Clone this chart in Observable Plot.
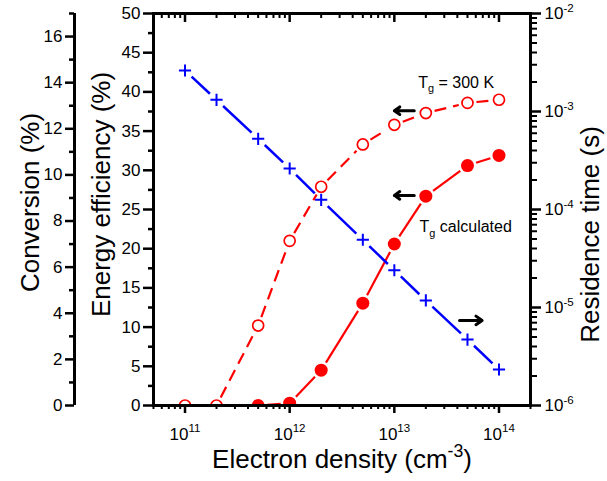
<!DOCTYPE html>
<html><head><meta charset="utf-8">
<script src="https://cdn.jsdelivr.net/npm/d3@7"></script>
<script src="https://cdn.jsdelivr.net/npm/@observablehq/plot@0.6"></script>
<style>
body{margin:0;background:#fff;}
#wrap{position:relative;width:607px;height:481px;}
#wrap svg{position:absolute;left:0;top:0;}
</style></head><body><div id="wrap"></div>
<script>
// ---- data ----
const density = [1e11, 2e11, 5e11, 1e12, 2e12, 5e12, 1e13, 2e13, 5e13, 1e14];
const effT300 = [0, 0, 10.2, 21.0, 27.9, 33.3, 35.8, 37.3, 38.6, 39.0];
const densityCalc = [5e11, 1e12, 2e12, 5e12, 1e13, 2e13, 5e13, 1e14];
const effCalc = [0, 0.3, 4.5, 13.05, 20.6, 26.7, 30.6, 31.9];
const residence = [2.62e-3, 1.315e-3, 5.26e-4, 2.62e-4, 1.256e-4, 4.91e-5, 2.40e-5, 1.18e-5, 4.71e-6, 2.33e-6];
const xTicks = [1e11, 1e12, 1e13, 1e14];
const effTicks = [0, 5, 10, 15, 20, 25, 30, 35, 40, 45, 50];
const effMinor = [2.5, 7.5, 12.5, 17.5, 22.5, 27.5, 32.5, 37.5, 42.5, 47.5];
const convTicks = [0, 2, 4, 6, 8, 10, 12, 14, 16];
const convMinor = [1, 3, 5, 7, 9, 11, 13, 15, 17];
const resTicks = [1e-6, 1e-5, 1e-4, 1e-3, 1e-2];
const notes = [
  {x: 1.69e13, y: 41.2, text: "T_{g} = 300 K"},
  {x: 1.74e13, y: 22.8, text: "T_{g} calculated"}
];
const arrows = [
  {x1: 1.55e13, y1: 37.6, x2: 1.0e13, y2: 37.6},
  {x1: 1.55e13, y1: 26.8, x2: 1.0e13, y2: 26.8},
  {x1: 4.2e13, y1: 10.85, x2: 6.9e13, y2: 10.85}
];

// ---- layout ----
const W = 607, H = 481, ML = 153, MR = 77, MT = 13, MB = 76;
const xDomain = [5e10, 2e14];
const FONT = "Liberation Sans, Arial, sans-serif";
const RED = "#ff0000", BLUE = "#0000ff";
const TITLE = 26;

// residence time (log) mapped into the energy-efficiency coordinate
const yRes = d3.scaleLog().domain([1e-6, 1e-2]).range([0, 50]);

const sx = Plot.scale({x: {type: "log", domain: xDomain, range: [ML, W - MR]}});
const sy = Plot.scale({y: {type: "linear", domain: [0, 50], range: [H - MB, MT]}});

function gapSegments(xs, ys, gap) {
  const segs = [];
  for (let i = 0; i < xs.length - 1; i++) {
    const ax = sx.apply(xs[i]), ay = sy.apply(ys[i]);
    const bx = sx.apply(xs[i + 1]), by = sy.apply(ys[i + 1]);
    const L = Math.hypot(bx - ax, by - ay);
    if (L <= 2 * gap + 1) continue;
    const ux = (bx - ax) / L, uy = (by - ay) / L;
    segs.push({x1: sx.invert(ax + ux * gap), y1: sy.invert(ay + uy * gap),
               x2: sx.invert(bx - ux * gap), y2: sy.invert(by - uy * gap)});
  }
  return segs;
}

const openPts = density.map((d, i) => ({x: d, y: effT300[i]}));
const calcPts = densityCalc.map((d, i) => ({x: d, y: effCalc[i]}));
const resPts = density.map((d, i) => ({x: d, y: yRes(residence[i])}));
const GAP = 9;
const openSegs = gapSegments(density, effT300, GAP);
const calcSegs = gapSegments(densityCalc, effCalc, GAP);
const resSegs = gapSegments(density, residence.map(yRes), GAP);

const xMinor = [];
for (let e = 10; e <= 14; e++) for (let m = 2; m <= 9; m++) {
  const v = m * Math.pow(10, e);
  if (v >= xDomain[0] && v <= xDomain[1]) xMinor.push(v);
}
const resMinor = [];
for (let e = -6; e <= -3; e++) for (let m = 2; m <= 9; m++) resMinor.push(yRes(m * Math.pow(10, e)));

const supFmt = (e) => "10^{" + e + "}";

const main = Plot.plot({
  width: W, height: H, marginLeft: ML, marginRight: MR, marginTop: MT, marginBottom: MB,
  style: {fontFamily: FONT, fontSize: "17px", background: "transparent", overflow: "visible", color: "black"},
  x: {type: "log", domain: xDomain, label: null},
  y: {type: "linear", domain: [0, 50], label: null},
  marks: [
    // T = 300 K (open circles, dashed)
    Plot.link(openSegs, {x1: "x1", y1: "y1", x2: "x2", y2: "y2", stroke: RED, strokeWidth: 2.2, strokeDasharray: "12,7", clip: true}),
    Plot.dot(openPts, {x: "x", y: "y", r: 5.5, stroke: RED, strokeWidth: 1.7, fill: "none", clip: true}),
    // T calculated (filled circles)
    Plot.link(calcSegs, {x1: "x1", y1: "y1", x2: "x2", y2: "y2", stroke: RED, strokeWidth: 2.2, clip: true}),
    Plot.dot(calcPts, {x: "x", y: "y", r: 6.5, fill: RED, stroke: "none", clip: true}),
    // residence time (blue crosses)
    Plot.link(resSegs, {x1: "x1", y1: "y1", x2: "x2", y2: "y2", stroke: BLUE, strokeWidth: 2.5, clip: true}),
    Plot.dot(resPts, {x: "x", y: "y", symbol: "plus", r: 4, stroke: BLUE, strokeWidth: 2, clip: true}),
    // annotations
    Plot.arrow(arrows, {x1: "x1", y1: "y1", x2: "x2", y2: "y2", stroke: "black", strokeWidth: 3, headLength: 8, headAngle: 70}),
    Plot.text(notes, {x: "x", y: "y", text: "text", textAnchor: "start", fontSize: 16, fill: "black"}),
    // axes
    Plot.axisX({anchor: "bottom", ticks: xTicks, tickSize: 8, tickPadding: 14, strokeWidth: 2.5, fontSize: 17,
                tickFormat: d => supFmt(Math.round(Math.log10(d))), label: null}),
    Plot.axisX({anchor: "bottom", ticks: xMinor, tickSize: 4, strokeWidth: 2, tickFormat: () => "", label: null}),
    Plot.axisX({anchor: "top", ticks: xTicks, tickSize: -8, strokeWidth: 2.5, tickFormat: () => "", label: null}),
    Plot.axisX({anchor: "top", ticks: xMinor, tickSize: -4, strokeWidth: 2, tickFormat: () => "", label: null}),
    Plot.axisY({anchor: "left", ticks: effTicks, tickSize: 10, tickPadding: 3, strokeWidth: 2.5, fontSize: 17, label: null}),
    Plot.axisY({anchor: "left", ticks: effMinor, tickSize: 5, strokeWidth: 2.5, tickFormat: () => "", label: null}),
    Plot.axisY({anchor: "right", ticks: resTicks.map(yRes), tickSize: 10, tickPadding: 4, strokeWidth: 2.5, fontSize: 17,
                tickFormat: d => supFmt(Math.round(Math.log10(yRes.invert(d)))), label: null}),
    Plot.axisY({anchor: "right", ticks: resMinor, tickSize: 6, strokeWidth: 2, tickFormat: () => "", label: null}),
    Plot.frame({stroke: "black", strokeWidth: 3}),
    // titles
    Plot.text(["Electron density (cm^{-3})"], {frameAnchor: "bottom", dy: 62, fontSize: TITLE, fill: "black", textAnchor: "middle"}),
    Plot.text(["Energy efficiency (%)"], {frameAnchor: "left", dx: -52, dy: -15, rotate: -90, fontSize: TITLE, fill: "black", textAnchor: "middle"}),
    Plot.text(["Residence time (s)"], {frameAnchor: "right", dx: 60, dy: 25, rotate: -90, fontSize: TITLE, fill: "black", textAnchor: "middle"})
  ]
});

const conv = Plot.plot({
  width: 80, height: H, marginLeft: 74, marginRight: 6, marginTop: MT, marginBottom: MB,
  style: {fontFamily: FONT, fontSize: "17px", background: "transparent", overflow: "visible", color: "black"},
  x: {domain: [0, 1], axis: null},
  y: {domain: [0, 17], label: null},
  marks: [
    Plot.axisY({anchor: "left", ticks: convTicks, tickSize: 9, tickPadding: 3, strokeWidth: 2.5, fontSize: 17, label: null}),
    Plot.axisY({anchor: "left", ticks: convMinor, tickSize: 5, strokeWidth: 2.5, tickFormat: () => "", label: null}),
    Plot.ruleX([0], {stroke: "black", strokeWidth: 3}),
    Plot.text(["Conversion (%)"], {frameAnchor: "left", dx: -44, dy: -7, rotate: -90, fontSize: TITLE, fill: "black", textAnchor: "middle"})
  ]
});

const wrap = document.getElementById("wrap");
wrap.appendChild(main);
wrap.appendChild(conv);

function richify(svg) {
  svg.querySelectorAll("text").forEach(t => {
    const s = t.textContent;
    if (!/[\^_]\{/.test(s)) return;
    const fs = parseFloat(getComputedStyle(t).fontSize) || 16;
    while (t.firstChild) t.removeChild(t.firstChild);
    const re = /([\^_])\{([^}]*)\}/g;
    let last = 0, m, pending = 0;
    const NS = "http://www.w3.org/2000/svg";
    const add = (str, size, dy) => {
      const ts = document.createElementNS(NS, "tspan");
      ts.textContent = str;
      if (size) ts.setAttribute("font-size", size);
      if (dy) ts.setAttribute("dy", dy);
      t.appendChild(ts);
    };
    while ((m = re.exec(s))) {
      if (m.index > last) { add(s.slice(last, m.index), null, pending); pending = 0; }
      const shift = m[1] === "^" ? -0.42 * fs : 0.3 * fs;
      add(m[2], 0.68 * fs, pending + shift);
      pending = -shift;
      last = re.lastIndex;
    }
    if (last < s.length) add(s.slice(last), null, pending);
  });
}
richify(main);
richify(conv);
</script>
</body></html>
